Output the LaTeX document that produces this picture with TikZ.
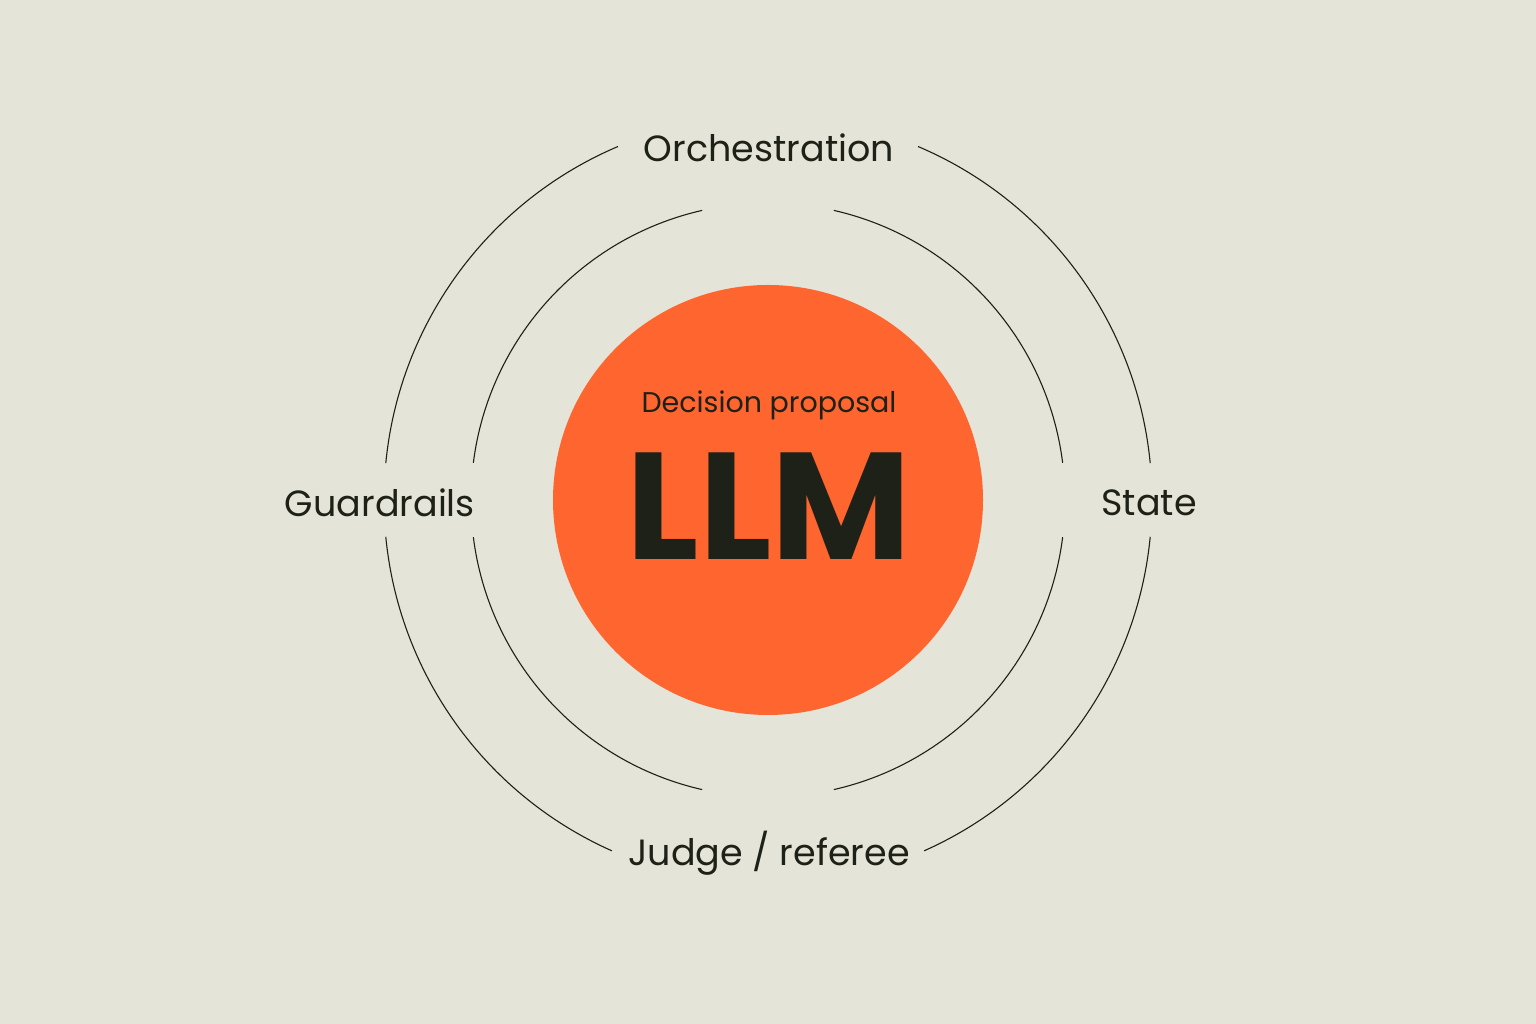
\documentclass[tikz,border=0pt]{standalone}
\usepackage{fontspec}
\setmainfont{Poppins}
\usetikzlibrary{calc}
\definecolor{bg}{HTML}{E5E4D8}
\definecolor{org}{HTML}{FF652E}
\definecolor{ink}{HTML}{1E2118}
\begin{document}
\begin{tikzpicture}[x=1pt,y=1pt,
  ring/.style={draw=ink,line width=1.1pt},
  lab/.style={text=ink,font=\fontsize{36.5}{40}\selectfont,inner sep=0pt}]
\fill[bg] (0,0) rectangle (1536,1024);
\useasboundingbox (0,0) rectangle (1536,1024);
\coordinate (c) at (768,524);
\node[circle,fill=org,minimum size=430pt,inner sep=0pt] (llm) at (c) {};
\node[text=ink,font=\fontsize{28.5}{30}\selectfont,inner sep=0pt] (dp) at (769,619) {Decision proposal};
\node[text=ink,font=\bfseries\fontsize{152}{150}\selectfont,inner sep=0pt] (t) at (769,518) {LLM};
\foreach \a/\b in {113/174.5,185.5/246,294/354.5,5.5/67}
  \draw[ring] ($(c)+(\a:384)$) arc[start angle=\a,end angle=\b,radius=384];
\foreach \a/\b in {102.8/172.8,187.2/257.2,282.8/352.8,7.2/77.2}
  \draw[ring] ($(c)+(\a:297)$) arc[start angle=\a,end angle=\b,radius=297];
\node[lab] (o) at (769,876) {Orchestration};
\node[lab] (g) at (380,521) {Guardrails};
\node[lab] (s) at (1149,521) {State};
\node[lab] (j) at (769,171) {Judge / referee};
\end{tikzpicture}
\end{document}
